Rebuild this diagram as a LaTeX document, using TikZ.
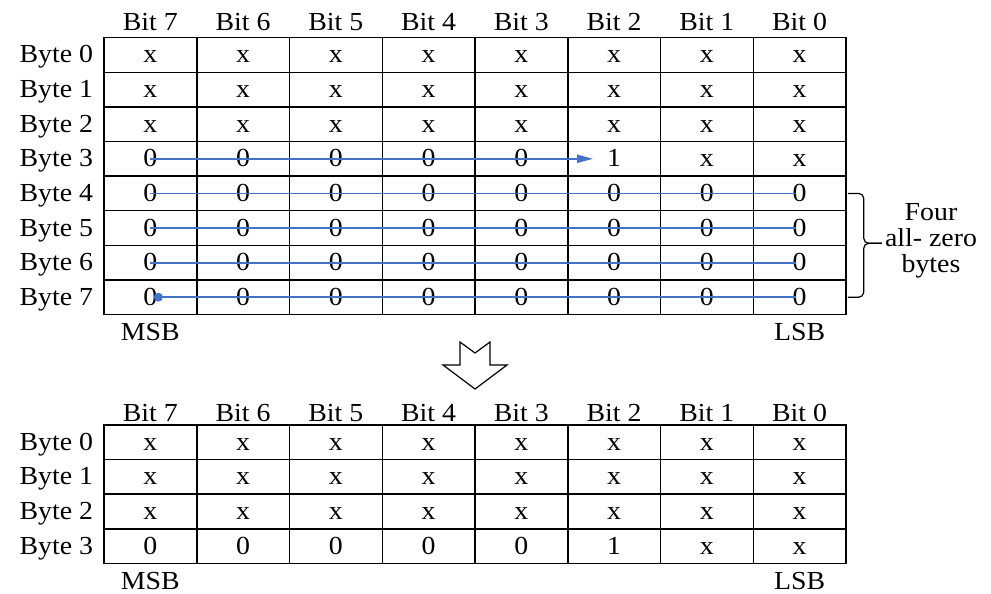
\documentclass[tikz,border=0pt]{standalone}
\usepackage{fontspec}
\setmainfont{Liberation Serif}[FakeStretch=1.07]
\usetikzlibrary{arrows.meta,calc}
\definecolor{lineblue}{RGB}{68,114,196}
\begin{document}
\begin{tikzpicture}[x=1pt,y=-1pt,
  every node/.style={font=\fontsize{26pt}{26pt}\selectfont,inner sep=0pt},
  cell/.style={draw=black,line width=1.5pt,minimum width=92.75pt,minimum height=34.6pt,text height=16pt,text depth=0pt},
  rowlabel/.style={anchor=east,text height=16pt,text depth=0pt},
  header/.style={anchor=base},
  zeroline/.style={draw=lineblue,line width=1.8pt},
  bigarrow/.style={draw=black,line width=1.2pt,fill=white,line join=miter}
]
\useasboundingbox (0,0) rectangle (991,594);
% ---------- top table ----------
\foreach \r/\row in {0/{x,x,x,x,x,x,x,x},1/{x,x,x,x,x,x,x,x},2/{x,x,x,x,x,x,x,x},3/{0,0,0,0,0,1,x,x},4/{0,0,0,0,0,0,0,0},5/{0,0,0,0,0,0,0,0},6/{0,0,0,0,0,0,0,0},7/{0,0,0,0,0,0,0,0}}{
  \foreach \v [count=\c from 0] in \row {
    \node[cell] (t\r\c) at ({104+92.75*(\c+0.5)},{37.7+34.6*(\r+0.5)}) {\v};
  }
  \node[rowlabel] (tl\r) at ([xshift=-10pt]t\r0.west) {Byte \r};
}
\foreach \c/\b in {0/7,1/6,2/5,3/4,4/3,5/2,6/1,7/0}{
  \node[header] (th\c) at ([yshift=6.7pt]t0\c.north) {Bit \b};
}
\node[header] (tmsb) at ([yshift=-25pt]t70.south) {MSB};
\node[header] (tlsb) at ([yshift=-25pt]t77.south) {LSB};
% blue lines
\draw[zeroline,-{Triangle[length=16pt,width=8pt]}] (t30.center) -- ([xshift=-21pt]t35.center);
\foreach \r in {4,5,6}{
  \draw[zeroline] (t\r0.center) -- ([xshift=-4pt]t\r7.center);
}
\draw[zeroline] ([xshift=8pt]t70.center) -- ([xshift=-4pt]t77.center);
\fill[lineblue] ([xshift=8pt]t70.center) circle (4.5pt);
% brace
\coordinate (bt) at ([xshift=1pt]t47.east);
\coordinate (bb) at ([xshift=1pt]t77.east);
\coordinate (bm) at ($(bt)!0.5!(bb)+(34,-2)$);
\draw[line width=1.2pt,rounded corners=5pt] (bt) -- ++(16,0) |- (bm);
\draw[line width=1.2pt,rounded corners=5pt] (bb) -- ++(16,0) |- (bm);
\node[align=center,font=\fontsize{26pt}{26pt}\selectfont] (four) at (931,241) {Four\\all- zero\\bytes};
% ---------- down arrow ----------
\coordinate (ar) at (475,342);
\draw[bigarrow] (ar) ++(-15,0) -- ++(0,23) -- ++(-17,0) -- (475,389) -- (507,365) -- (490,365) -- (490,342) -- (475,353) -- cycle;
% ---------- bottom table ----------
\foreach \r/\row in {0/{x,x,x,x,x,x,x,x},1/{x,x,x,x,x,x,x,x},2/{x,x,x,x,x,x,x,x},3/{0,0,0,0,0,1,x,x}}{
  \foreach \v [count=\c from 0] in \row {
    \node[cell] (b\r\c) at ({104+92.75*(\c+0.5)},{425+34.6*(\r+0.5)}) {\v};
  }
  \node[rowlabel] (bl\r) at ([xshift=-10pt]b\r0.west) {Byte \r};
}
\foreach \c/\b in {0/7,1/6,2/5,3/4,4/3,5/2,6/1,7/0}{
  \node[header] (bh\c) at ([yshift=3pt]b0\c.north) {Bit \b};
}
\node[header] (bmsb) at ([yshift=-25pt]b30.south) {MSB};
\node[header] (blsb) at ([yshift=-25pt]b37.south) {LSB};
\end{tikzpicture}
\end{document}
